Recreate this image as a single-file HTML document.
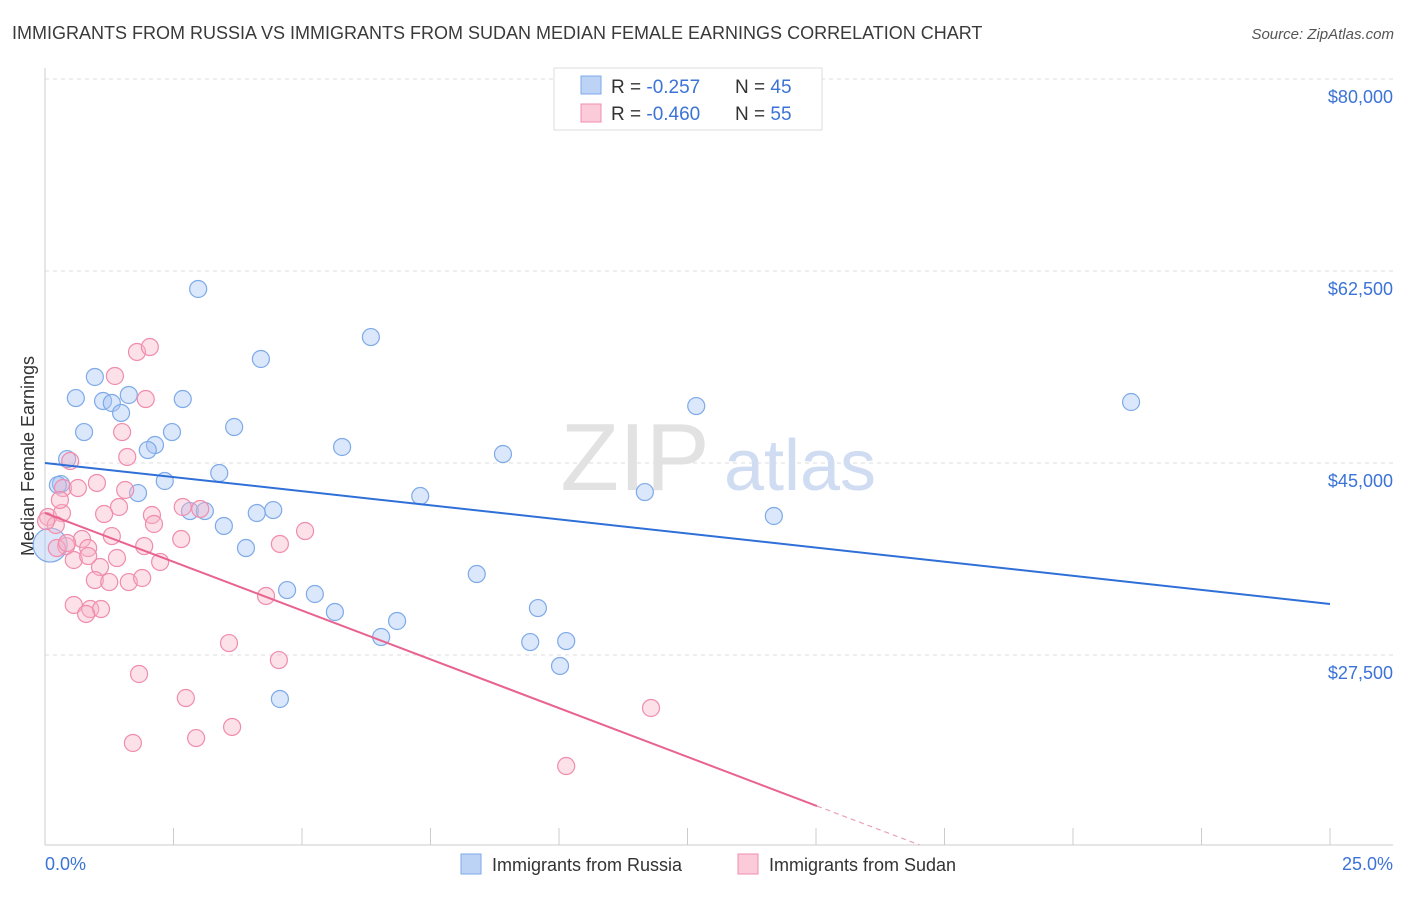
<!DOCTYPE html>
<html><head><meta charset="utf-8">
<style>
body{margin:0;background:#fff;font-family:"Liberation Sans",sans-serif;}
svg text{font-family:"Liberation Sans",sans-serif;}
</style></head>
<body>
<svg id="chart" width="1406" height="892" viewBox="0 0 1406 892" xmlns="http://www.w3.org/2000/svg">
<text x="12" y="39" font-size="18" fill="#3a3a3a">IMMIGRANTS FROM RUSSIA VS IMMIGRANTS FROM SUDAN MEDIAN FEMALE EARNINGS CORRELATION CHART</text>
<text x="1394" y="39" font-size="15" fill="#555" text-anchor="end" font-style="italic">Source: ZipAtlas.com</text>
<g id="grid"></g>
<g>
<text x="635" y="490" font-size="96" font-family="Liberation Serif" fill="#e2e2e2" text-anchor="middle">ZIP</text>
<text x="800" y="490" font-size="72" fill="#cfdcf1" text-anchor="middle">atlas</text>
</g>
<line x1="45" y1="68" x2="45" y2="845" stroke="#ccc"/>
<line x1="45" y1="845" x2="1393" y2="845" stroke="#ccc"/>
<g id="xticks"></g>
<g id="ylabels"></g>
<text transform="translate(34,456) rotate(-90)" font-size="18" fill="#333" text-anchor="middle">Median Female Earnings</text>
<text x="45" y="870" font-size="18" fill="#3b73d6">0.0%</text>
<text x="1393" y="870" font-size="18" fill="#3b73d6" text-anchor="end">25.0%</text>
<g id="pts"></g>
<g id="lines"></g>
<g>
<rect x="554" y="68" width="268" height="62" fill="#fff" stroke="#ddd"/>
<rect x="581" y="76" width="20" height="18" fill="#bcd3f5" stroke="#7eaae8"/>
<rect x="581" y="104" width="20" height="18" fill="#fbcbd9" stroke="#f08cad"/>
<text x="611" y="93" font-size="19" fill="#333">R = <tspan fill="#3b73d6">-0.257</tspan><tspan x="735">N = </tspan><tspan fill="#3b73d6">45</tspan></text>
<text x="611" y="120" font-size="19" fill="#333">R = <tspan fill="#3b73d6">-0.460</tspan><tspan x="735">N = </tspan><tspan fill="#3b73d6">55</tspan></text>
</g>
<g>
<rect x="461" y="854" width="20" height="20" fill="#bcd3f5" stroke="#7eaae8"/>
<text x="492" y="871" font-size="18" fill="#333">Immigrants from Russia</text>
<rect x="738" y="854" width="20" height="20" fill="#fbcbd9" stroke="#f08cad"/>
<text x="769" y="871" font-size="18" fill="#333">Immigrants from Sudan</text>
</g>
</svg>
<script>
const yTicks=[80000,62500,45000,27500];
const yTickLabels=["$80,000","$62,500","$45,000","$27,500"];
const russiaX=[2.98,6.34,4.20,0.97,0.60,1.13,1.30,1.63,1.48,2.68,0.76,2.47,3.68,2.14,2.00,5.78,0.43,0.31,2.33,1.81,3.39,2.82,3.11,3.48,4.12,4.44,3.91,7.30,8.91,11.67,12.67,14.18,21.13,4.71,5.25,5.64,8.40,9.59,6.85,6.54,9.44,10.14,10.02,4.57,0.25];
const russiaY=[60860,56480,54480,52840,50920,50650,50470,51200,49560,50830,47820,47820,48280,46640,46180,46460,45360,43080,43360,42260,44090,40620,40620,39260,40440,40710,37250,41990,45820,42350,50190,40170,50560,33420,33060,31420,34880,31780,30600,29140,28680,28770,26500,23490,42990];
const sudanX=[1.79,2.04,1.36,1.96,1.50,1.60,0.49,1.01,1.56,0.35,0.64,2.68,3.02,1.44,1.15,2.08,2.12,0.06,0.33,1.30,2.65,1.93,0.21,0.72,5.06,4.57,0.84,0.41,0.56,1.07,2.24,0.84,1.40,0.97,1.25,1.63,1.89,0.56,0.88,1.09,0.80,4.30,3.58,4.55,1.83,2.74,3.64,2.94,1.71,11.79,10.14,0.23,0.02,0.29,0.43];
const sudanY=[55120,55570,52930,50830,47820,45550,45180,43180,42540,42720,42720,40990,40810,40990,40350,40260,39440,40080,40440,38340,38070,37430,39350,38070,38800,37620,37250,37430,36160,35520,35980,36520,36340,34330,34150,34150,34520,32060,31690,31690,31240,32880,28590,27040,25770,23580,20940,19930,19480,22670,17380,37250,39710,41630,37710];
const russiaTrend=[45000,32150];
const sudanTrend=[40440,-1778];
const bigPoint=[0.10,37520];
const NS="http://www.w3.org/2000/svg";
const xs=p=>45+p/25*1285;
const ys=v=>79+(80000-v)*192/17500;
function mk(tag,attrs,parent){const e=document.createElementNS(NS,tag);for(const k in attrs)e.setAttribute(k,attrs[k]);parent.appendChild(e);return e;}
const grid=document.getElementById('grid'),yl=document.getElementById('ylabels'),xt=document.getElementById('xticks');
yTicks.forEach((v,i)=>{
 const l=mk('line',{x1:45,x2:1393,y1:ys(v),y2:ys(v),stroke:'#ddd','stroke-dasharray':'4,4'},grid);
 
 
 const t=mk('text',{x:1393,y:ys(v)+24,'font-size':18,fill:'#3b73d6','text-anchor':'end'},yl);
 t.textContent=yTickLabels[i];
 
 
});
for(let k=0;k<=10;k++){
 const l=mk('line',{x1:xs(k*2.5),x2:xs(k*2.5),y1:828,y2:845,stroke:'#ccc'},xt);
 
 
}
const pts=document.getElementById('pts');
russiaX.forEach((x,i)=>{
 const c=mk('circle',{cx:xs(x),cy:ys(russiaY[i]),r:8.5,fill:'rgba(164,196,244,0.4)',stroke:'#7eaae8','stroke-width':1.2},pts);
 
 
});
const bp=mk('circle',{cx:xs(bigPoint[0]),cy:ys(bigPoint[1]),r:17,fill:'rgba(164,196,244,0.4)',stroke:'#7eaae8','stroke-width':1.2},pts);


sudanX.forEach((x,i)=>{
 const c=mk('circle',{cx:xs(x),cy:ys(sudanY[i]),r:8.5,fill:'rgba(248,180,200,0.4)',stroke:'#f08cad','stroke-width':1.2},pts);
 
 
});
const lines=document.getElementById('lines');
const bl=mk('line',{x1:xs(0),y1:ys(russiaTrend[0]),x2:xs(25),y2:ys(russiaTrend[1]),stroke:'#2f6fd8','stroke-width':2},lines);


const sEnd=15.02, sZero=(sudanTrend[0]-10182)/(-sudanTrend[1]);
const pl=mk('line',{x1:xs(0),y1:ys(sudanTrend[0]),x2:xs(sEnd),y2:ys(sudanTrend[0]+sudanTrend[1]*sEnd),stroke:'#e8638f','stroke-width':2},lines);


const pd=mk('line',{x1:xs(sEnd),y1:ys(sudanTrend[0]+sudanTrend[1]*sEnd),x2:xs(sZero),y2:ys(sudanTrend[0]+sudanTrend[1]*sZero),stroke:'#e8a0b8','stroke-width':1.2,'stroke-dasharray':'5,4'},lines);


</script>
</body></html>
